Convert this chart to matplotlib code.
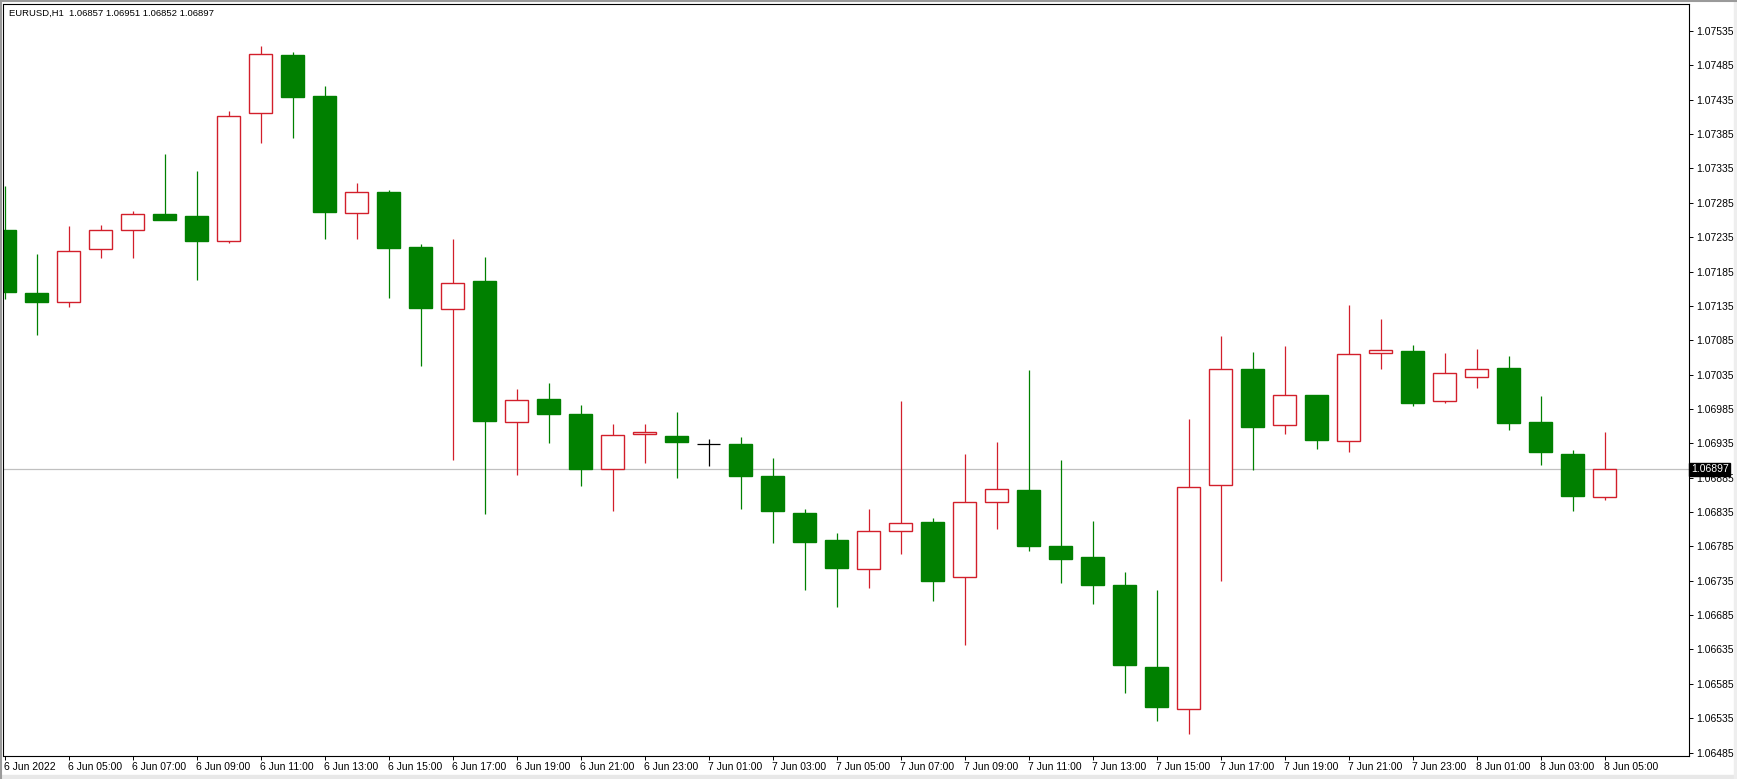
import numpy as np
import matplotlib
matplotlib.use("Agg")
import matplotlib.pyplot as plt
from matplotlib.lines import Line2D
from matplotlib.patches import Rectangle
import matplotlib.transforms as mtransforms

# EURUSD H1, 6 Jun 2022 03:00 .. 8 Jun 2022 05:00
opens = [1.07245, 1.07154, 1.07141, 1.07218, 1.07246, 1.07268, 1.07266, 1.07229, 1.07415, 1.07500,
         1.07441, 1.07270, 1.07301, 1.07220, 1.07131, 1.07171, 1.06966, 1.06999, 1.06977, 1.06897,
         1.06948, 1.06945, 1.06934, 1.06934, 1.06888, 1.06834, 1.06794, 1.06752, 1.06808, 1.06820,
         1.06740, 1.06849, 1.06867, 1.06786, 1.06770, 1.06729, 1.06610, 1.06548, 1.06875, 1.07043,
         1.06961, 1.07006, 1.06939, 1.07066, 1.07070, 1.06996, 1.07031, 1.07044, 1.06966, 1.06920,
         1.06857]
highs = [1.07310, 1.07211, 1.07251, 1.07252, 1.07273, 1.07356, 1.07331, 1.07418, 1.07513, 1.07505,
         1.07455, 1.07314, 1.07304, 1.07225, 1.07232, 1.07206, 1.07014, 1.07023, 1.06991, 1.06963,
         1.06963, 1.06981, 1.06941, 1.06944, 1.06913, 1.06840, 1.06805, 1.06839, 1.06996, 1.06826,
         1.06920, 1.06937, 1.07041, 1.06911, 1.06822, 1.06748, 1.06722, 1.06970, 1.07091, 1.07068,
         1.07077, 1.07006, 1.07137, 1.07116, 1.07078, 1.07067, 1.07072, 1.07062, 1.07004, 1.06926,
         1.06951]
lows = [1.07145, 1.07093, 1.07134, 1.07204, 1.07204, 1.07260, 1.07173, 1.07226, 1.07372, 1.07380,
        1.07233, 1.07233, 1.07146, 1.07048, 1.06911, 1.06832, 1.06889, 1.06936, 1.06873, 1.06837,
        1.06906, 1.06885, 1.06902, 1.06839, 1.06790, 1.06721, 1.06697, 1.06724, 1.06774, 1.06705,
        1.06642, 1.06810, 1.06779, 1.06732, 1.06701, 1.06571, 1.06531, 1.06512, 1.06735, 1.06896,
        1.06949, 1.06927, 1.06922, 1.07043, 1.06990, 1.06994, 1.07016, 1.06954, 1.06904, 1.06836,
        1.06852]
closes = [1.07155, 1.07141, 1.07215, 1.07246, 1.07268, 1.07260, 1.07229, 1.07412, 1.07501, 1.07439,
          1.07272, 1.07301, 1.07219, 1.07132, 1.07169, 1.06967, 1.06998, 1.06977, 1.06897, 1.06947,
          1.06951, 1.06937, 1.06934, 1.06888, 1.06836, 1.06792, 1.06753, 1.06808, 1.06819, 1.06734,
          1.06849, 1.06868, 1.06785, 1.06767, 1.06729, 1.06612, 1.06551, 1.06872, 1.07043, 1.06959,
          1.07005, 1.06940, 1.07065, 1.07071, 1.06993, 1.07038, 1.07043, 1.06965, 1.06923, 1.06859,
          1.06897]

time_labels = ["6 Jun 2022", "6 Jun 05:00", "6 Jun 07:00", "6 Jun 09:00", "6 Jun 11:00", "6 Jun 13:00",
               "6 Jun 15:00", "6 Jun 17:00", "6 Jun 19:00", "6 Jun 21:00", "6 Jun 23:00", "7 Jun 01:00",
               "7 Jun 03:00", "7 Jun 05:00", "7 Jun 07:00", "7 Jun 09:00", "7 Jun 11:00", "7 Jun 13:00",
               "7 Jun 15:00", "7 Jun 17:00", "7 Jun 19:00", "7 Jun 21:00", "7 Jun 23:00", "8 Jun 01:00",
               "8 Jun 03:00", "8 Jun 05:00"]
price_ticks = np.round(np.arange(1.06485, 1.07536, 0.0005), 5)
last_price = 1.06897
header = "EURUSD,H1  1.06857 1.06951 1.06852 1.06897"

up_color = "#d21f2b"
down_color = "#008000"
font = "Liberation Sans"
fs = 7.5

o = np.array(opens)
h = np.array(highs)
l = np.array(lows)
c = np.array(closes)
x = np.arange(len(o))

W, H = 1737, 779
fig = plt.figure(figsize=(W / 100, H / 100), dpi=100)
fig.patch.set_facecolor("white")
ax = fig.add_axes([3.5 / W, 23 / H, (1689 - 3.5) / W, (756 - 4) / H])

ax.axhline(last_price, color="#c0c0c0", lw=0.9, zorder=0)

up = c > o
down = c < o
doji = c == o

ax.vlines(x[up], l[up], h[up], color=up_color, lw=0.9, zorder=1)
ax.vlines(x[down], l[down], h[down], color=down_color, lw=0.9, zorder=1)
ax.vlines(x[doji], l[doji], h[doji], color="black", lw=0.9, zorder=1)

bw = 0.74
ax.bar(x[up], c[up] - o[up], bottom=o[up], width=bw, facecolor="white",
       edgecolor=up_color, linewidth=1.0, zorder=2)
ax.bar(x[down], o[down] - c[down], bottom=c[down], width=bw, facecolor=down_color,
       edgecolor=down_color, linewidth=1.0, zorder=2)
ax.hlines(o[doji], x[doji] - bw / 2, x[doji] + bw / 2, color="black", lw=0.9, zorder=2)

ax.set_xlim((3.5 - 4.5) / 32, (1689 - 4.5) / 32)
ax.set_ylim(1.064800, 1.075743)

ax.set_xticks(np.arange(0, len(o), 2))
ax.set_xticklabels(time_labels, ha="left", fontsize=fs, family=font)
ax.yaxis.tick_right()
ax.set_yticks(price_ticks)
ax.set_yticklabels([f"{p:.5f}" for p in price_ticks], fontsize=fs, family=font)
ax.tick_params(axis="x", direction="out", length=3, width=0.7, pad=1.5)
ax.tick_params(axis="y", direction="out", length=3, width=0.7, pad=2.5)

for s in ax.spines.values():
    s.set_linewidth(0.8)
    s.set_color("black")

trans = mtransforms.blended_transform_factory(ax.transAxes, ax.transData)
ax.text(1.0 + 2 / 1686, last_price, f"{last_price:.5f}", transform=trans,
        ha="left", va="center", color="white", fontsize=fs, family=font, zorder=10,
        bbox=dict(boxstyle="square,pad=0.15", facecolor="black", edgecolor="black"),
        clip_on=False)

fig.text(9 / W, 1 - 13.5 / H, header, ha="left", va="center", fontsize=6.8, family=font)

fig.add_artist(Line2D([0, 1], [1 - 1 / H, 1 - 1 / H], color="#9a9a9a", lw=1.5, transform=fig.transFigure))
fig.add_artist(Line2D([1 / W, 1 / W], [0, 1], color="#9a9a9a", lw=1.5, transform=fig.transFigure))
fig.add_artist(Rectangle((0, 0), 1, 4 / H, color="#e8e8e8", transform=fig.transFigure))
fig.add_artist(Rectangle((1 - 3 / W, 0), 3 / W, 1, color="#eeeeee", transform=fig.transFigure))

fig.savefig("out.png", dpi=100)
